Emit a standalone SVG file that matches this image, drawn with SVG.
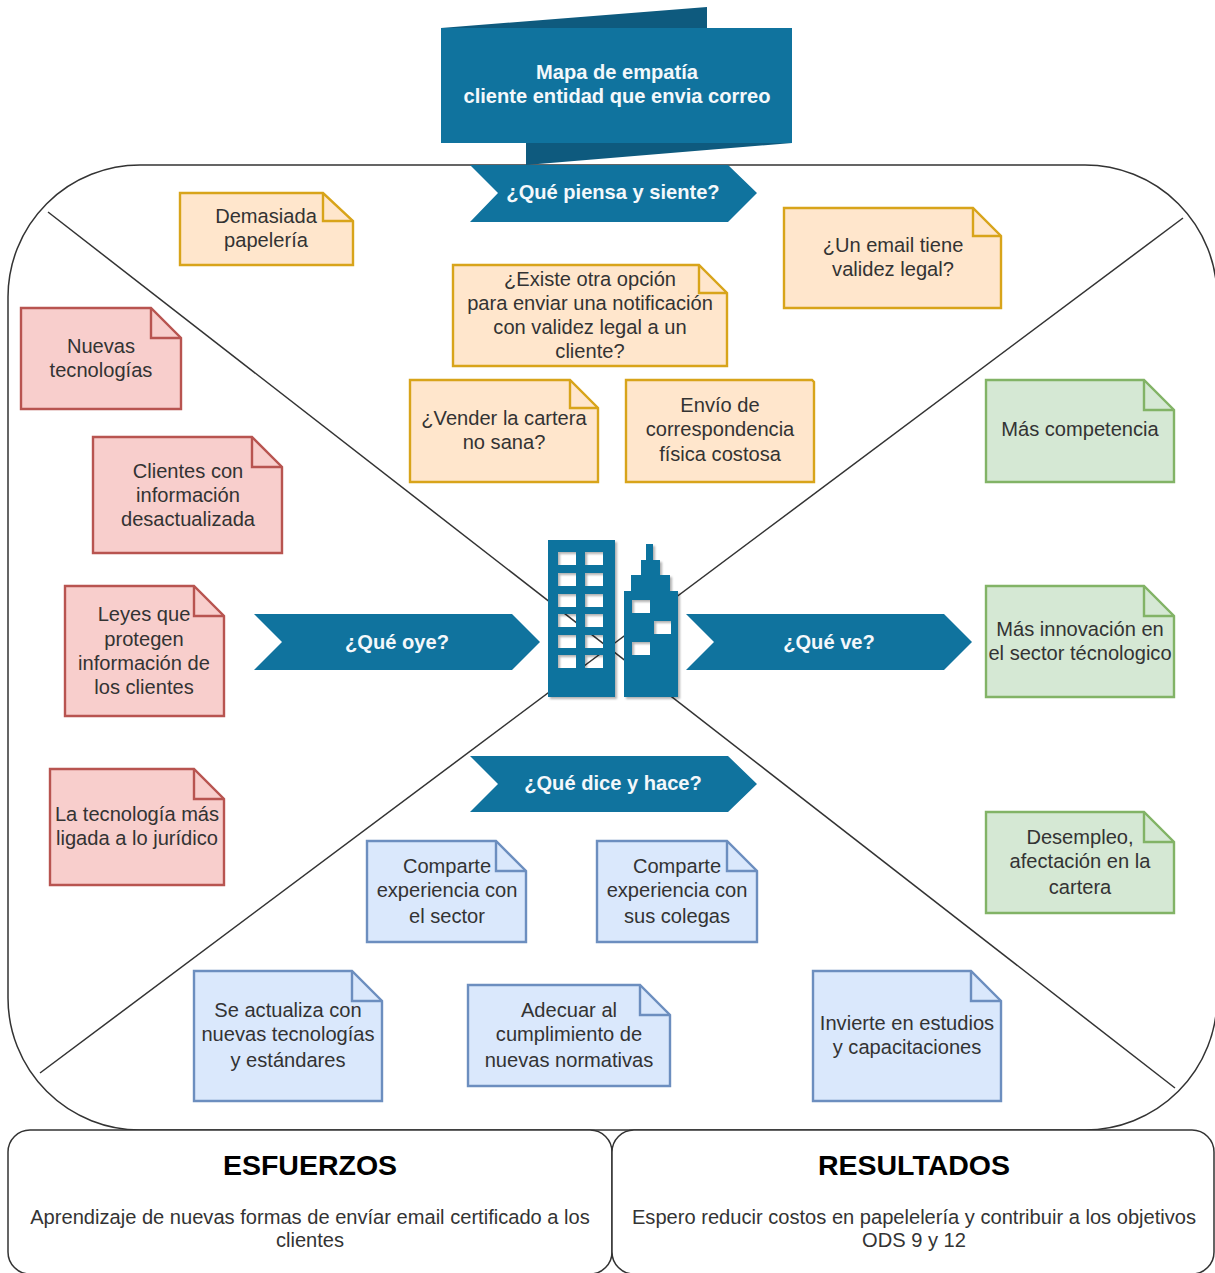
<svg xmlns="http://www.w3.org/2000/svg" width="1215" height="1273" viewBox="0 0 1215 1273">
<style>
text{font-family:"Liberation Sans",Arial,sans-serif;text-anchor:middle}
.t{font-size:20.1px;fill:#333}
.n{stroke-width:2.4;stroke-linejoin:miter}
.o{fill:#ffe6cc;stroke:#d8a41a}
.r{fill:#f8cecc;stroke:#b85450}
.g{fill:#d5e8d4;stroke:#82b366}
.b{fill:#dae8fc;stroke:#6c8ebf}
.f{fill:none}
.ban{fill:#10739e}
.w{font-size:20.1px;font-weight:bold;fill:#f4f8fb}
.box{fill:#fff;stroke:#333;stroke-width:1.5}
.h{font-size:28.5px;font-weight:bold;fill:#000}
</style>
<defs><filter id="sh" x="-10%" y="-10%" width="120%" height="120%"><feDropShadow dx="2" dy="2" stdDeviation="1" flood-color="#000" flood-opacity="0.3"/></filter></defs>
<g id="frame"><rect x="8" y="165" width="1209" height="965" rx="132" ry="132" fill="#fff" stroke="#333" stroke-width="1.5"/></g>
<g id="connectors" fill="none" stroke="#333" stroke-width="1.5">
<line x1="48" y1="212" x2="1175" y2="1088"/>
<line x1="1183" y1="218" x2="40" y2="1073"/>
</g>
<g id="title">
<path d="M441 28L707 7V28Z" fill="#0e5a7e"/>
<path d="M526 143H792L526 165Z" fill="#0e5a7e"/>
<rect x="441" y="28" width="351" height="115" class="ban"/>
<text class="w" x="617" y="79">Mapa de empatía</text>
<text class="w" x="617" y="103">cliente entidad que envia correo</text>
</g>
<g id="b-piensa"><path class="ban" d="M470 165H728L757 193L728 222H470L498 193Z"/><text class="w" x="613" y="199">¿Qué piensa y siente?</text></g>
<g id="b-oye"><path class="ban" d="M254 614H512L540 642L512 670H254L282 642Z"/><text class="w" x="397" y="649">¿Qué oye?</text></g>
<g id="b-ve"><path class="ban" d="M686 614H944L972 642L944 670H686L714 642Z"/><text class="w" x="829" y="649">¿Qué ve?</text></g>
<g id="b-dice"><path class="ban" d="M470 756H728L757 784L728 812H470L498 784Z"/><text class="w" x="613" y="790">¿Qué dice y hace?</text></g>
<g id="building"><path class="ban" filter="url(#sh)" fill-rule="evenodd" d="M548 540H615V697H548Z
M558 552h18v13h-18Z M585 552h18v13h-18Z
M558 573h18v13h-18Z M585 573h18v13h-18Z
M558 594h18v13h-18Z M585 594h18v13h-18Z
M558 614h18v13h-18Z M585 614h18v13h-18Z
M558 635h18v13h-18Z M585 635h18v13h-18Z
M558 655h18v13h-18Z M585 655h18v13h-18Z
M624 697V591H631V575H641V560H646V544H653V560H660V575H670V591H678V697Z
M632 600h18v13h-18Z M654 621h17v13h-17Z M632 642h18v13h-18Z"/></g>
<g id="n1"><path class="n o" d="M180 193H323L353 221V265H180Z"/><path class="n o f" d="M323 193V221H353"/><text class="t" x="266" y="223">Demasiada</text><text class="t" x="266" y="247">papelería</text></g>
<g id="n2"><path class="n o" d="M784 208H973L1001 236V308H784Z"/><path class="n o f" d="M973 208V236H1001"/><text class="t" x="893" y="252">¿Un email tiene</text><text class="t" x="893" y="276">validez legal?</text></g>
<g id="n3"><path class="n o" d="M453 265H699L727 293V366H453Z"/><path class="n o f" d="M699 265V293H727"/><text class="t" x="590" y="286">¿Existe otra opción</text><text class="t" x="590" y="310">para enviar una notificación</text><text class="t" x="590" y="334">con validez legal a un</text><text class="t" x="590" y="358">cliente?</text></g>
<g id="n4"><path class="n o" d="M410 380H570L598 408V482H410Z"/><path class="n o f" d="M570 380V408H598"/><text class="t" x="504" y="425">¿Vender la cartera</text><text class="t" x="504" y="449">no sana?</text></g>
<g id="n5"><path class="n o" d="M626 380H812L814 382V482H626Z"/><text class="t" x="720" y="412">Envío de</text><text class="t" x="720" y="436">correspondencia</text><text class="t" x="720" y="461">física costosa</text></g>
<g id="n6"><path class="n r" d="M21 308H151L181 338V409H21Z"/><path class="n r f" d="M151 308V338H181"/><text class="t" x="101" y="353">Nuevas</text><text class="t" x="101" y="377">tecnologías</text></g>
<g id="n7"><path class="n r" d="M93 437H252L282 467V553H93Z"/><path class="n r f" d="M252 437V467H282"/><text class="t" x="188" y="478">Clientes con</text><text class="t" x="188" y="502">información</text><text class="t" x="188" y="526">desactualizada</text></g>
<g id="n8"><path class="n r" d="M65 586H194L224 616V716H65Z"/><path class="n r f" d="M194 586V616H224"/><text class="t" x="144" y="621">Leyes que</text><text class="t" x="144" y="646">protegen</text><text class="t" x="144" y="670">información de</text><text class="t" x="144" y="694">los clientes</text></g>
<g id="n9"><path class="n r" d="M50 769H194L224 799V885H50Z"/><path class="n r f" d="M194 769V799H224"/><text class="t" x="137" y="821">La tecnología más</text><text class="t" x="137" y="845">ligada a lo jurídico</text></g>
<g id="n10"><path class="n g" d="M986 380H1144L1174 410V482H986Z"/><path class="n g f" d="M1144 380V410H1174"/><text class="t" x="1080" y="436">Más competencia</text></g>
<g id="n11"><path class="n g" d="M986 586H1144L1174 616V697H986Z"/><path class="n g f" d="M1144 586V616H1174"/><text class="t" x="1080" y="636">Más innovación en</text><text class="t" x="1080" y="660">el sector técnologico</text></g>
<g id="n12"><path class="n g" d="M986 812H1144L1174 842V913H986Z"/><path class="n g f" d="M1144 812V842H1174"/><text class="t" x="1080" y="844">Desempleo,</text><text class="t" x="1080" y="868">afectación en la</text><text class="t" x="1080" y="894">cartera</text></g>
<g id="n13"><path class="n b" d="M367 841H496L526 871V942H367Z"/><path class="n b f" d="M496 841V871H526"/><text class="t" x="447" y="873">Comparte</text><text class="t" x="447" y="897">experiencia con</text><text class="t" x="447" y="923">el sector</text></g>
<g id="n14"><path class="n b" d="M597 841H727L757 871V942H597Z"/><path class="n b f" d="M727 841V871H757"/><text class="t" x="677" y="873">Comparte</text><text class="t" x="677" y="897">experiencia con</text><text class="t" x="677" y="923">sus colegas</text></g>
<g id="n15"><path class="n b" d="M194 971H352L382 1001V1101H194Z"/><path class="n b f" d="M352 971V1001H382"/><text class="t" x="288" y="1017">Se actualiza con</text><text class="t" x="288" y="1041">nuevas tecnologías</text><text class="t" x="288" y="1067">y estándares</text></g>
<g id="n16"><path class="n b" d="M468 985H640L670 1015V1086H468Z"/><path class="n b f" d="M640 985V1015H670"/><text class="t" x="569" y="1017">Adecuar al</text><text class="t" x="569" y="1041">cumplimiento de</text><text class="t" x="569" y="1067">nuevas normativas</text></g>
<g id="n17"><path class="n b" d="M813 971H971L1001 1001V1101H813Z"/><path class="n b f" d="M971 971V1001H1001"/><text class="t" x="907" y="1030">Invierte en estudios</text><text class="t" x="907" y="1054">y capacitaciones</text></g>
<g id="esfuerzos"><rect class="box" x="8" y="1130" width="604" height="144" rx="22"/><text class="h" x="310" y="1175">ESFUERZOS</text><text class="t" x="310" y="1224">Aprendizaje de nuevas formas de envíar email certificado a los</text><text class="t" x="310" y="1247">clientes</text></g>
<g id="resultados"><rect class="box" x="612" y="1130" width="602" height="144" rx="22"/><text class="h" x="914" y="1175">RESULTADOS</text><text class="t" x="914" y="1224">Espero reducir costos en papelelería y contribuir a los objetivos</text><text class="t" x="914" y="1247">ODS 9 y 12</text></g>
</svg>
